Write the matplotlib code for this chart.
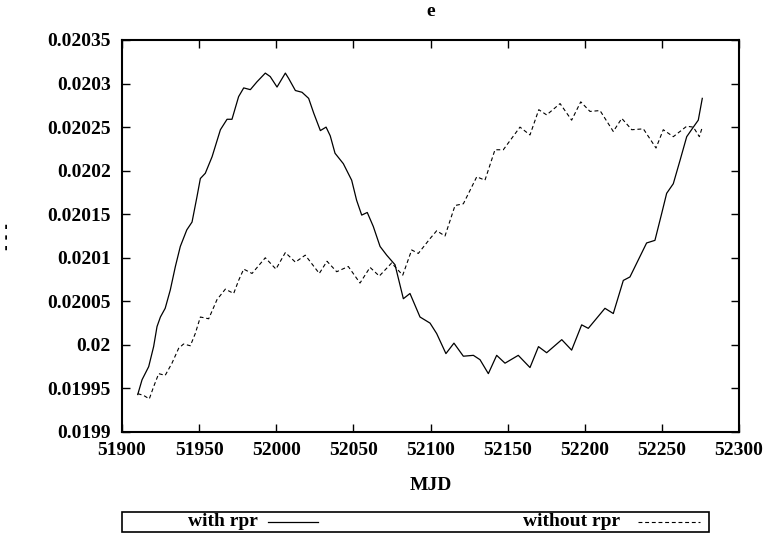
import matplotlib
matplotlib.use("Agg")
import matplotlib.pyplot as plt
from matplotlib.patches import Rectangle
from matplotlib.lines import Line2D

# ---- data ----
mjd_with = [51910.2, 51913, 51917.3, 51920.5, 51922.7, 51924.9, 51928, 51931.3, 51934.6, 51937.8,
            51942, 51945.4, 51948.6, 51950.8, 51954, 51958.4, 51963.8, 51968.1, 51971.3, 51975.6,
            51978.9, 51983.2, 51987.5, 51992.9, 51996.1, 52000.5, 52005.9, 52008, 52012.4, 52016.7,
            52021, 52024.3, 52028.6, 52032.3, 52035, 52038.1, 52043.5, 52048.9, 52052.1, 52055.4,
            52059, 52062.9, 52067.3, 52071.6, 52077, 52082.4, 52086.7, 52093.2, 52099.7, 52104,
            52110, 52115.2, 52121.3, 52127.8, 52132.1, 52137.5, 52142.9, 52148.3, 52156.9, 52164.5,
            52170, 52175.3, 52185.1, 52191.5, 52198, 52202.3, 52213.1, 52218.5, 52225, 52229.3,
            52240.1, 52245.5, 52249.9, 52253.1, 52257.4, 52261.8, 52266.1, 52270.4, 52273.6, 52276.2]
e_with = [0.019943, 0.019960, 0.019975, 0.019998, 0.020021, 0.020032, 0.020042, 0.020063, 0.020090, 0.020113,
          0.020132, 0.020141, 0.020170, 0.020191, 0.020197, 0.020216, 0.020247, 0.020259, 0.020259, 0.020285,
          0.020295, 0.020293, 0.020302, 0.020312, 0.020308, 0.020296, 0.020312, 0.020306, 0.020292, 0.020290,
          0.020283, 0.020266, 0.020246, 0.020250, 0.020240, 0.020220, 0.020208, 0.020189, 0.020166, 0.020149,
          0.020152, 0.020136, 0.020113, 0.020103, 0.020092, 0.020053, 0.020059, 0.020032, 0.020025, 0.020013,
          0.019990, 0.020002, 0.019987, 0.019988, 0.019983, 0.019967, 0.019988, 0.019979, 0.019988, 0.019974,
          0.019998, 0.019991, 0.020006, 0.019994, 0.020023, 0.020019, 0.020042, 0.020036, 0.020074, 0.020078,
          0.020117, 0.020120, 0.020151, 0.020174, 0.020185, 0.020212, 0.020239, 0.020250, 0.020258, 0.020283]

mjd_without = [51910.2, 51914, 51917.7, 51920.5, 51923.8, 51928, 51932.4, 51936.7, 51939.9, 51944.3,
               51947.5, 51950.8, 51956.2, 51961.6, 51967, 51972.4, 51975.6, 51978.9, 51984.3, 51992.9,
               51999.8, 52005.9, 52012.4, 52018.8, 52027.9, 52032.9, 52039.2, 52046.7, 52054.3, 52060.8,
               52066.8, 52074.8, 52082, 52087.8, 52092.1, 52099.7, 52104, 52109.4, 52115.9, 52121.3,
               52130, 52135.3, 52141.8, 52147.2, 52158, 52164.5, 52170.2, 52175.3, 52184, 52191.5,
               52197.4, 52203.4, 52209.9, 52218.5, 52224, 52230.5, 52238, 52246.2, 52250.9, 52257.4,
               52266.1, 52270.4, 52274.3, 52276.2]
e_without = [0.019944, 0.019942, 0.019938, 0.019952, 0.019967, 0.019965, 0.019979, 0.019996, 0.020001, 0.019999,
             0.020013, 0.020032, 0.020030, 0.020052, 0.020064, 0.020059, 0.020074, 0.020087, 0.020082, 0.020100,
             0.020087, 0.020106, 0.020095, 0.020103, 0.020082, 0.020096, 0.020084, 0.020090, 0.020071, 0.020089,
             0.020079, 0.020094, 0.020080, 0.020109, 0.020105, 0.020122, 0.020131, 0.020125, 0.020160, 0.020162,
             0.020193, 0.020189, 0.020224, 0.020224, 0.020250, 0.020241, 0.020270, 0.020264, 0.020277, 0.020258,
             0.020279, 0.020268, 0.020269, 0.020245, 0.020260, 0.020247, 0.020248, 0.020226, 0.020247, 0.020239,
             0.020251, 0.020250, 0.020239, 0.020250]

x_ticks = [51900, 51950, 52000, 52050, 52100, 52150, 52200, 52250, 52300]
y_ticks = [0.0199, 0.01995, 0.02, 0.02005, 0.0201, 0.02015, 0.0202, 0.02025, 0.0203, 0.02035]
y_tick_labels = ["0.0199", "0.01995", "0.02", "0.02005", "0.0201", "0.02015",
                 "0.0202", "0.02025", "0.0203", "0.02035"]
series_labels = ["with rpr", "without rpr"]
title = "e"
xlabel = "MJD"
ylabel = "- - -"

# ---- figure ----
W, H = 767, 534
plt.rcParams['font.family'] = ['Liberation Serif', 'DejaVu Serif']
plt.rcParams['font.weight'] = 'bold'
FS = 14

fig = plt.figure(figsize=(W / 100, H / 100), dpi=100)
ax = fig.add_axes([122 / W, 1 - 432 / H, (739 - 122) / W, (432 - 40) / H])

DASH = (0, (3.5, 2.5))
ax.plot(mjd_with, e_with, color='black', lw=0.9, solid_joinstyle='round')
ax.plot(mjd_without, e_without, color='black', lw=0.8, linestyle=DASH)

ax.set_xlim(51900, 52300)
ax.set_ylim(0.0199, 0.02035)
ax.set_xticks(x_ticks)
ax.set_xticklabels([str(t) for t in x_ticks])
ax.set_yticks(y_ticks)
ax.set_yticklabels(y_tick_labels)
ax.tick_params(direction='in', length=6, width=1, top=True, right=True,
               labelsize=FS, colors='black')
ax.tick_params(axis='y', pad=8)
ax.tick_params(axis='x', pad=7)
for lab in ax.get_xticklabels() + ax.get_yticklabels():
    lab.set_fontweight('bold')
for s in ax.spines.values():
    s.set_linewidth(1.5)

def fx(px):
    return px / W

def fy(py):
    return 1 - py / H

fig.text(fx(430.5), fy(12), title, ha='center', va='center', fontsize=FS, fontweight='bold')
fig.text(fx(430.5), fy(486), xlabel, ha='center', va='center', fontsize=FS, fontweight='bold')
fig.text(fx(7), fy(236), ylabel, ha='center', va='center', rotation=90, fontsize=10,
         fontweight='heavy', family=['DejaVu Sans'])

# legend box (gnuplot style)
fig.patches.append(Rectangle((fx(122), fy(532)), fx(709) - fx(122), fy(512) - fy(532),
                             transform=fig.transFigure, fill=False, edgecolor='black', lw=1.2))
ly = fy(521)
fig.text(fx(258), ly, series_labels[0], ha='right', va='center', fontsize=FS, fontweight='bold')
fig.lines.append(Line2D([fx(268), fx(318)], [fy(522), fy(522)], transform=fig.transFigure,
                        color='black', lw=0.9))
fig.text(fx(620), ly, series_labels[1], ha='right', va='center', fontsize=FS, fontweight='bold')
fig.lines.append(Line2D([fx(638), fx(700)], [fy(522), fy(522)], transform=fig.transFigure,
                        color='black', lw=0.8, linestyle=DASH))

fig.savefig("out.png", dpi=100)
